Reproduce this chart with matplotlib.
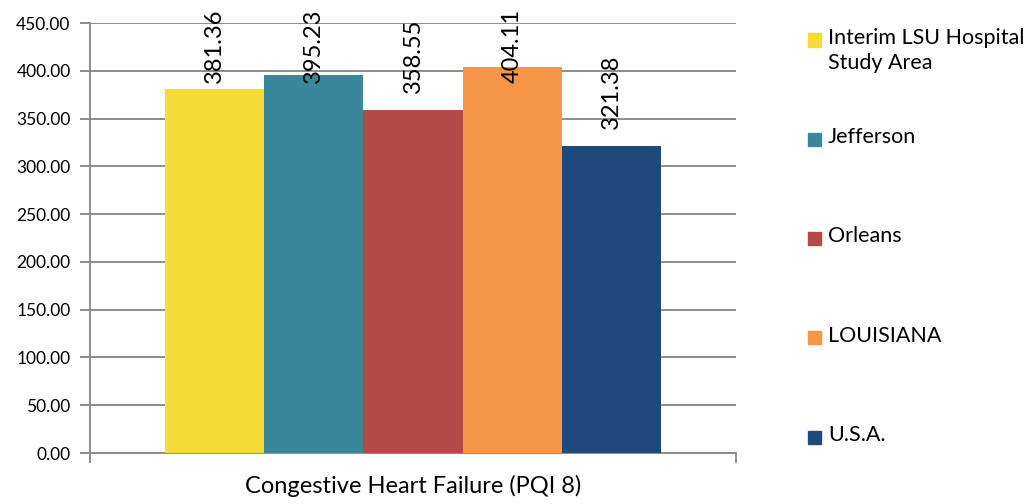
import matplotlib.pyplot as plt
from matplotlib.patches import Rectangle

plt.rcParams['font.family'] = ['Lato', 'DejaVu Sans']

# PQI 8 rates per area
areas = ["Interim LSU Hospital\nStudy Area", "Jefferson", "Orleans", "LOUISIANA", "U.S.A."]
rates = [381.36, 395.23, 358.55, 404.11, 321.38]
colors = ["#F5DB36", "#3A8799", "#B24A48", "#F79646", "#1F497D"]
yticks = [0, 50, 100, 150, 200, 250, 300, 350, 400, 450]
category = "Congestive Heart Failure (PQI 8)"

W, H = 1029, 504
fig = plt.figure(figsize=(W / 100, H / 100), dpi=100)

# plot area in pixels: left 90, right 736, top 23, bottom 453
ax = fig.add_axes([90 / W, (H - 453) / H, (736 - 90) / W, (453 - 23) / H])

n = len(rates)
bw = 1 / (n + 1.5)
start = 0.75 * bw
for i, (v, c) in enumerate(zip(rates, colors)):
    x = start + i * bw + bw / 2
    ax.bar(x, v, width=bw, color=c, zorder=3)
    # labels sit roughly 57 units above the bar, kept inside the plot
    ax.text(x, min(v + 57, 426), f"{v:.2f}", rotation=90, ha='center', va='center',
            fontsize=17, color='black', zorder=4)

ax.set_xlim(0, 1)
ax.set_ylim(0, 450)
ax.set_yticks(yticks)
ax.set_yticklabels([f"{t:.2f}" for t in yticks])
ax.yaxis.grid(True, color='#8c8c8c', linewidth=1.4, zorder=0)
ax.set_xticks([0, 1])
ax.set_xticklabels(["", ""])
ax.tick_params(axis='y', length=7, width=1.4, color='#8c8c8c', pad=7, labelsize=12.5)
ax.tick_params(axis='x', length=7, width=1.4, color='#8c8c8c')
for s in ['top', 'right']:
    ax.spines[s].set_visible(False)
for s in ['left', 'bottom']:
    ax.spines[s].set_color('#8c8c8c')
    ax.spines[s].set_linewidth(1.4)

# category name under the axis
fig.text(413 / W, (H - 493) / H, category, ha='center', va='baseline', fontsize=17)

# legend drawn by hand so the swatch lines up with the first text line
for i, (name, c) in enumerate(zip(areas, colors)):
    cy = 40 + i * 99.25
    fig.patches.append(Rectangle((808 / W, (H - cy - 6.5) / H), 13 / W, 13 / H,
                                 transform=fig.transFigure, color=c))
    fig.text(828 / W, (H - cy + 12) / H, name, ha='left', va='top',
             fontsize=15.5, linespacing=1.3)

fig.savefig("out.png", dpi=100)
